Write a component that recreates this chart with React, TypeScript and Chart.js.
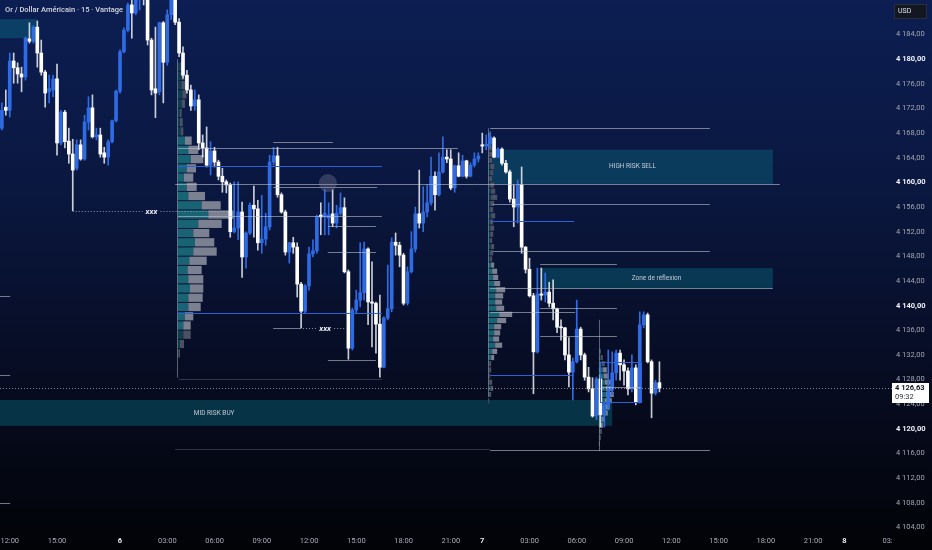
import React, { useEffect, useRef } from "react";
import { Chart, registerables } from "chart.js";

Chart.register(...registerables);

// ---------- DATA ----------
const FIRST_BAR = -2; // bar index of the first candle (15-minute bars, 0 = 12:00 day 5)

const OPEN = [
  4168.8, 4172.2, 4171.7, 4179.7, 4178.6, 4177.6, 4177.1, 4183.3, 4182.9, 4185.2,
  4181.0, 4177.9, 4174.7, 4175.0, 4176.8, 4166.4, 4171.4, 4166.7, 4164.6, 4162.3,
  4166.1, 4163.8, 4169.8, 4172.1, 4167.4, 4167.7, 4164.8, 4164.1, 4166.6, 4170.0,
  4174.8, 4181.2, 4184.7, 4188.8, 4187.5, 4190.4, 4192.0, 4190.4, 4183.1, 4175.2,
  4174.7, 4185.9, 4179.5, 4187.2, 4190.4, 4186.0, 4181.0, 4177.4, 4175.0, 4172.4,
  4173.4, 4166.4, 4165.6, 4162.8, 4165.1, 4163.3, 4161.0, 4160.1, 4159.6, 4152.0,
  4152.6, 4155.2, 4147.9, 4151.8, 4156.3, 4155.7, 4150.2, 4150.8, 4152.8, 4163.3,
  4164.3, 4158.0, 4155.2, 4148.7, 4150.2, 4149.5, 4143.5, 4139.1, 4143.2, 4148.4,
  4148.9, 4154.7, 4154.4, 4154.2, 4154.9, 4153.4, 4155.0, 4155.9, 4145.5, 4133.1,
  4139.3, 4140.9, 4142.1, 4149.2, 4140.6, 4140.4, 4137.0, 4130.0, 4138.0, 4139.5,
  4150.3, 4149.8, 4148.2, 4140.4, 4145.5, 4149.2, 4154.9, 4153.4, 4155.2, 4156.7,
  4161.0, 4158.0, 4161.7, 4164.1, 4163.8, 4159.1, 4162.7, 4161.0, 4163.5, 4161.0,
  4162.8, 4163.8, 4166.1, 4165.9, 4166.2, 4167.2, 4164.1, 4165.4, 4163.1, 4161.7,
  4157.3, 4156.0, 4159.6, 4149.5, 4145.9, 4141.6, 4132.5, 4141.9, 4141.7, 4142.2,
  4140.4, 4139.5, 4136.5, 4136.4, 4132.0, 4129.2, 4130.9, 4136.2, 4132.0, 4128.4,
  4126.5, 4122.1, 4128.1, 4122.3, 4123.9, 4126.3, 4129.1, 4132.3, 4130.4, 4129.4,
  4126.5, 4129.9, 4124.4, 4136.9, 4138.5, 4130.9, 4125.8, 4127.5,
];
const HIGH = [
  4172.9, 4175.0, 4181.0, 4181.0, 4179.4, 4178.7, 4183.6, 4185.9, 4185.4, 4186.2,
  4183.1, 4178.2, 4177.4, 4177.4, 4179.2, 4171.7, 4171.7, 4168.8, 4167.0, 4166.9,
  4166.9, 4170.9, 4173.9, 4174.2, 4168.8, 4168.8, 4165.7, 4166.9, 4170.1, 4175.0,
  4181.5, 4185.1, 4189.1, 4190.4, 4191.2, 4192.8, 4193.7, 4191.2, 4183.4, 4185.2,
  4186.0, 4186.1, 4188.0, 4190.9, 4192.0, 4186.6, 4182.0, 4178.2, 4175.8, 4175.0,
  4174.2, 4167.7, 4169.0, 4166.6, 4165.7, 4163.6, 4162.3, 4160.4, 4159.9, 4160.1,
  4160.1, 4156.8, 4152.0, 4156.7, 4159.4, 4157.1, 4157.9, 4155.0, 4164.4, 4165.7,
  4165.7, 4158.3, 4155.5, 4150.3, 4151.1, 4150.2, 4143.8, 4143.4, 4149.5, 4150.7,
  4154.7, 4156.7, 4158.8, 4156.7, 4158.8, 4156.3, 4158.3, 4157.5, 4145.8, 4139.6,
  4142.5, 4150.2, 4150.3, 4149.4, 4147.1, 4140.6, 4141.7, 4138.2, 4146.6, 4151.0,
  4151.8, 4150.3, 4148.5, 4146.3, 4152.0, 4156.0, 4162.0, 4159.3, 4159.6, 4164.1,
  4161.7, 4164.8, 4167.4, 4165.3, 4165.3, 4162.8, 4164.8, 4164.4, 4163.6, 4163.2,
  4164.8, 4164.8, 4168.0, 4167.7, 4168.2, 4167.4, 4165.6, 4165.6, 4163.6, 4162.0,
  4159.6, 4160.4, 4162.5, 4149.6, 4147.7, 4142.0, 4146.1, 4146.1, 4145.3, 4143.8,
  4144.2, 4139.6, 4137.7, 4136.5, 4134.8, 4131.5, 4140.9, 4136.5, 4132.3, 4130.0,
  4128.3, 4128.4, 4128.7, 4124.2, 4132.8, 4132.5, 4132.8, 4132.8, 4131.2, 4129.9,
  4132.0, 4130.4, 4139.0, 4139.0, 4138.8, 4131.2, 4127.9, 4130.9,
];
const LOW = [
  4168.5, 4170.9, 4170.6, 4176.1, 4176.1, 4174.7, 4176.6, 4182.6, 4182.6, 4178.7,
  4177.4, 4172.2, 4172.9, 4173.9, 4164.4, 4166.1, 4165.6, 4163.1, 4155.4, 4162.0,
  4163.6, 4163.6, 4168.5, 4167.2, 4166.9, 4164.1, 4163.1, 4162.8, 4166.4, 4169.8,
  4174.5, 4181.0, 4184.4, 4183.4, 4187.2, 4188.0, 4188.8, 4182.3, 4174.2, 4170.5,
  4174.2, 4172.9, 4179.0, 4186.4, 4185.6, 4180.4, 4176.9, 4174.5, 4171.7, 4171.7,
  4165.3, 4164.1, 4162.5, 4161.2, 4162.5, 4160.4, 4158.4, 4158.3, 4151.1, 4151.8,
  4150.7, 4144.6, 4146.1, 4151.5, 4151.1, 4149.0, 4148.5, 4149.8, 4152.3, 4162.8,
  4157.6, 4155.0, 4148.2, 4146.9, 4148.5, 4141.4, 4136.4, 4138.8, 4142.5, 4147.9,
  4148.5, 4151.5, 4151.5, 4151.5, 4152.8, 4152.6, 4154.7, 4145.3, 4131.3, 4132.8,
  4138.8, 4139.8, 4140.9, 4136.9, 4133.3, 4132.3, 4128.4, 4129.9, 4137.7, 4139.0,
  4148.2, 4146.3, 4140.1, 4140.1, 4145.3, 4148.7, 4152.6, 4152.0, 4154.4, 4156.3,
  4155.5, 4157.8, 4161.5, 4163.2, 4158.8, 4158.4, 4160.9, 4160.9, 4160.7, 4160.9,
  4162.5, 4163.3, 4164.8, 4165.3, 4165.6, 4164.0, 4164.0, 4162.8, 4161.5, 4156.8,
  4152.8, 4153.4, 4148.5, 4145.3, 4141.4, 4125.7, 4132.3, 4140.9, 4140.6, 4139.8,
  4137.7, 4135.6, 4134.4, 4131.2, 4126.8, 4124.7, 4130.7, 4131.2, 4127.9, 4126.0,
  4121.9, 4121.5, 4120.3, 4120.3, 4123.1, 4125.5, 4127.9, 4127.9, 4127.1, 4125.5,
  4126.0, 4123.9, 4124.2, 4136.4, 4130.7, 4121.8, 4125.5, 4126.0,
];
const CLOSE = [
  4171.7, 4171.7, 4179.7, 4178.6, 4177.6, 4177.1, 4183.4, 4182.9, 4185.2, 4181.0,
  4177.9, 4174.5, 4175.2, 4176.8, 4166.4, 4171.4, 4166.6, 4164.6, 4162.0, 4166.1,
  4163.8, 4169.8, 4172.1, 4167.4, 4167.7, 4164.6, 4164.1, 4166.6, 4170.0, 4174.8,
  4181.2, 4184.7, 4188.8, 4187.5, 4190.4, 4192.0, 4190.4, 4183.1, 4175.0, 4174.5,
  4185.9, 4179.5, 4187.2, 4189.6, 4186.0, 4181.0, 4177.4, 4175.0, 4172.4, 4173.4,
  4166.4, 4165.6, 4162.8, 4165.1, 4163.3, 4161.0, 4160.1, 4159.6, 4152.0, 4152.6,
  4155.2, 4147.9, 4151.8, 4156.3, 4155.7, 4150.2, 4150.8, 4152.8, 4163.3, 4164.3,
  4158.0, 4155.2, 4148.7, 4150.2, 4149.5, 4143.5, 4139.1, 4143.2, 4148.4, 4148.9,
  4154.4, 4154.4, 4155.0, 4154.7, 4153.4, 4155.0, 4155.9, 4145.5, 4133.1, 4139.3,
  4140.9, 4142.1, 4149.2, 4140.6, 4140.4, 4137.0, 4130.0, 4138.0, 4139.5, 4150.3,
  4149.8, 4148.2, 4140.4, 4145.5, 4149.2, 4154.9, 4153.4, 4155.2, 4156.7, 4161.0,
  4158.0, 4161.7, 4164.1, 4163.8, 4159.1, 4162.7, 4161.0, 4163.5, 4161.0, 4162.8,
  4163.8, 4164.3, 4165.9, 4166.2, 4167.4, 4164.1, 4165.4, 4163.1, 4161.7, 4157.3,
  4156.0, 4159.6, 4149.5, 4145.9, 4141.6, 4132.5, 4141.9, 4141.7, 4142.2, 4140.4,
  4139.5, 4136.5, 4136.4, 4132.0, 4129.2, 4130.9, 4136.2, 4132.0, 4128.4, 4126.5,
  4122.1, 4128.1, 4122.3, 4123.9, 4126.3, 4129.1, 4132.3, 4130.4, 4129.4, 4126.5,
  4129.9, 4124.4, 4136.9, 4138.5, 4130.9, 4125.8, 4127.5, 4126.63,
];

const Y_TICKS = [
  4104, 4108, 4112, 4116, 4120, 4124, 4128, 4132, 4136, 4140, 4144,
  4148, 4152, 4156, 4160, 4164, 4168, 4172, 4176, 4180, 4184,
];
const X_TICK_INDEX = [0, 12, 28, 40, 52, 64, 76, 88, 100, 112, 120, 132, 144, 156, 168, 180, 192, 204, 212, 224];
const X_TICK_LABELS = [
  "12:00", "15:00", "6", "03:00", "06:00", "09:00", "12:00", "15:00", "18:00", "21:00",
  "7", "03:00", "06:00", "09:00", "12:00", "15:00", "18:00", "21:00", "8", "03:00",
];
const DAY_LABELS = ["6", "7", "8"];

const X_MIN = -2.476;
const X_MAX = 224.06;
const Y_MIN = 4103.27;
const Y_MAX = 4189.6;

const TITLE = "Or / Dollar Américain · 15 · Vantage";
const CURRENCY = "USD";
const COUNTDOWN = "09:32";

// horizontal levels: [price, from bar, to bar, kind]
const LEVELS: [number, number, number, string][] = [
  [4168.9, 122.0, 177.8, "g"],
  [4166.6, 66.9, 82.1, "g"],
  [4165.6, 42.7, 113.8, "g"],
  [4162.7, 42.7, 94.5, "b"],
  [4159.8, 42.0, 195.6, "g"],
  [4159.3, 66.9, 93.3, "g"],
  [4154.5, 42.7, 94.5, "g"],
  [4152.9, 80.8, 93.0, "g"],
  [4148.7, 80.8, 93.0, "g"],
  [4138.8, 42.5, 94.5, "b"],
  [4136.3, 66.9, 73.7, "g"],
  [4131.2, 80.8, 93.0, "g"],
  [4128.1, 43.0, 94.5, "f"],
  [4156.5, 122.7, 177.8, "g"],
  [4153.7, 122.0, 143.3, "b"],
  [4148.9, 122.7, 177.8, "g"],
  [4146.8, 134.7, 154.2, "g"],
  [4142.8, 122.0, 193.8, "g"],
  [4139.6, 134.7, 154.2, "g"],
  [4139.0, 122.0, 143.6, "g"],
  [4135.1, 134.7, 154.2, "g"],
  [4128.8, 122.0, 143.3, "b"],
  [4116.5, 122.0, 177.8, "g"],
  [4116.7, 42.0, 122.0, "f"],
  [4141.5, -2.5, 0.1, "g"],
  [4128.8, -2.5, 0.1, "g"],
  [4108.0, -2.5, 0.1, "g"],
  [4126.8, 149.9, 160.3, "g"],
];

// dotted "xxx" markers: [price, from bar, to bar, label bar]
const MARKS: [number, number, number, number][] = [
  [4155.36, 16.0, 55.5, 36.0],
  [4136.3, 73.7, 85.2, 80.1],
];
const MARK_TEXT = "xxx";

// zones: [from bar, to bar, top price, bottom price, label]
const ZONES: [number, number, number, number, string][] = [
  [-2.5, 6.9, 4186.5, 4183.4, ""],
  [122.5, 193.8, 4165.3, 4159.75, "HIGH RISK SELL"],
  [134.7, 193.8, 4146.1, 4142.8, "Zone de réflexion"],
  [-49.2, 153.0, 4124.7, 4120.5, "MID RISK BUY"],
];
// outlined rectangle: [from bar, to bar, top, bottom]
const FRAME: [number, number, number, number] = [149.9, 160.3, 4130.8, 4124.3];
// highlighted point: [bar, price]
const DOT: [number, number] = [80.8, 4159.9];

// session volume profiles (up / down volume per row)
const VP1_BASE = 42.6, VP1_TOP = 4178.7, VP1_STEP = 1.5;
const VP1_UP = [30, 40, 40, 50, 42, 25, 25, 32, 75, 108, 132, 92, 65, 92, 108, 242, 308, 208, 158, 175, 158, 118, 100, 108, 125, 108, 108, 75, 58, 58, 25, 10];
const VP1_DOWN = [30, 30, 40, 40, 33, 17, 27, 26, 67, 100, 126, 93, 93, 100, 167, 190, 267, 234, 160, 193, 234, 174, 142, 150, 133, 144, 124, 83, 74, 74, 40, 15];
const VP1_VA = [8, 28];
const VP1_SPAN = [4180.0, 4128.3];

const VP2_BASE = 121.5, VP2_TOP = 4167.5, VP2_STEP = 1.0;
const VP2_UP = [0, 0, 10, 10, 10, 20, 20, 10, 20, 30, 30, 20, 20, 30, 20, 20, 20, 20, 30, 20, 20, 30, 40, 50, 60, 80, 70, 70, 80, 110, 90, 60, 60, 50, 70, 40, 30, 10, 10, 10, 10, 20, 10, 0];
const VP2_DOWN = [30, 30, 30, 40, 30, 40, 30, 30, 40, 40, 60, 40, 30, 40, 30, 40, 30, 20, 30, 30, 20, 30, 50, 50, 60, 90, 80, 70, 80, 130, 90, 70, 60, 60, 70, 50, 30, 20, 20, 10, 30, 30, 20, 10];
const VP2_VA = [21, 36];
const VP2_SPAN = [4168.8, 4125.2];

const VP3_BASE = 149.6, VP3_TOP = 4132.5, VP3_STEP = 1.0;
const VP3_UP = [10, 20, 30, 40, 50, 60, 70, 70, 60, 50, 40, 30, 20, 10, 10, 0];
const VP3_DOWN = [10, 20, 30, 40, 50, 60, 70, 80, 70, 60, 50, 30, 20, 20, 10, 10];
const VP3_VA = [3, 12];
const VP3_SPAN = [4137.7, 4116.4];

const VOL_TO_BARS = 1 / 39.375;

// ---------- STYLE ----------
const FONT = "Roboto, 'Open Sans', sans-serif";
const UP_COLOR = "#2f6be3";
const DOWN_COLOR = "#ffffff";
const GREY_LINE = "rgba(190,195,208,0.6)";
const FAINT_LINE = "rgba(150,155,170,0.3)";
const BLUE_LINE = "#2d5fd6";
const ZONE_FILL = "rgba(10,118,140,0.38)";

function fmtPrice(v: number): string {
  const s = v.toFixed(2);
  const [intPart, dec] = s.split(".");
  return intPart.slice(0, intPart.length - 3) + " " + intPart.slice(-3) + "," + dec;
}

function drawProfile(ctx: any, xs: any, ys: any, base: number, top: number, step: number,
  up: number[], down: number[], va: number[], span: number[]) {
  const x0 = xs.getPixelForValue(base);
  for (let k = 0; k < up.length; k++) {
    const p = top - k * step;
    const y0 = ys.getPixelForValue(p + step / 2);
    const y1 = ys.getPixelForValue(p - step / 2);
    const h = Math.max(1, y1 - y0 - 1);
    const xa = xs.getPixelForValue(base + up[k] * VOL_TO_BARS);
    const xb = xs.getPixelForValue(base + (up[k] + down[k]) * VOL_TO_BARS);
    const inVA = k >= va[0] && k <= va[1];
    ctx.fillStyle = inVA ? "#186475" : "#0f3f4f";
    ctx.fillRect(x0, y0, xa - x0, h);
    ctx.fillStyle = inVA ? "#7c8192" : "#4b5163";
    ctx.fillRect(xa, y0, xb - xa, h);
  }
  ctx.strokeStyle = "rgba(160,165,180,0.55)";
  ctx.lineWidth = 1;
  ctx.beginPath();
  const lx = Math.round(x0) + 0.5;
  ctx.moveTo(lx, ys.getPixelForValue(span[0]));
  ctx.lineTo(lx, ys.getPixelForValue(span[1]));
  ctx.stroke();
}

const decor = {
  id: "tvDecor",
  beforeDraw(chart: any) {
    const { ctx, width, height } = chart;
    ctx.save();
    const g = ctx.createLinearGradient(0, 0, 0, height);
    g.addColorStop(0, "#0c1e52");
    g.addColorStop(0.35, "#0a173f");
    g.addColorStop(0.65, "#070d25");
    g.addColorStop(1, "#020307");
    ctx.fillStyle = g;
    ctx.fillRect(0, 0, width, height);
    ctx.restore();
  },
  beforeDatasetsDraw(chart: any) {
    const { ctx, chartArea: a, scales } = chart;
    const xs = scales.x, ys = scales.y;
    ctx.save();
    ctx.beginPath();
    ctx.rect(a.left, a.top, a.right - a.left, a.bottom - a.top);
    ctx.clip();
    for (const [f, t, top, bot] of ZONES) {
      const x0 = xs.getPixelForValue(f), x1 = xs.getPixelForValue(t);
      const y0 = ys.getPixelForValue(top), y1 = ys.getPixelForValue(bot);
      ctx.fillStyle = ZONE_FILL;
      ctx.fillRect(x0, y0, x1 - x0, y1 - y0);
    }
    drawProfile(ctx, xs, ys, VP1_BASE, VP1_TOP, VP1_STEP, VP1_UP, VP1_DOWN, VP1_VA, VP1_SPAN);
    drawProfile(ctx, xs, ys, VP2_BASE, VP2_TOP, VP2_STEP, VP2_UP, VP2_DOWN, VP2_VA, VP2_SPAN);
    drawProfile(ctx, xs, ys, VP3_BASE, VP3_TOP, VP3_STEP, VP3_UP, VP3_DOWN, VP3_VA, VP3_SPAN);
    ctx.restore();
  },
  afterDatasetsDraw(chart: any) {
    const { ctx, chartArea: a, scales } = chart;
    const xs = scales.x, ys = scales.y;
    ctx.save();
    ctx.beginPath();
    ctx.rect(a.left, a.top, a.right - a.left, a.bottom - a.top);
    ctx.clip();
    ctx.lineWidth = 1;
    for (const [p, f, t, kind] of LEVELS) {
      const y = Math.round(ys.getPixelForValue(p)) + 0.5;
      ctx.strokeStyle = kind === "b" ? BLUE_LINE : kind === "f" ? FAINT_LINE : GREY_LINE;
      ctx.beginPath();
      ctx.moveTo(xs.getPixelForValue(f), y);
      ctx.lineTo(xs.getPixelForValue(t), y);
      ctx.stroke();
    }
    {
      const [f, t, top, bot] = FRAME;
      const x0 = Math.round(xs.getPixelForValue(f)) + 0.5, x1 = Math.round(xs.getPixelForValue(t)) + 0.5;
      const y0 = Math.round(ys.getPixelForValue(top)) + 0.5, y1 = Math.round(ys.getPixelForValue(bot)) + 0.5;
      ctx.strokeStyle = BLUE_LINE;
      ctx.strokeRect(x0, y0, x1 - x0, y1 - y0);
    }
    {
      const last = CLOSE[CLOSE.length - 1];
      const y = Math.round(ys.getPixelForValue(last)) + 0.5;
      ctx.strokeStyle = "rgba(175,180,195,0.75)";
      ctx.setLineDash([1, 2]);
      ctx.beginPath();
      ctx.moveTo(a.left, y);
      ctx.lineTo(a.right, y);
      ctx.stroke();
    }
    ctx.strokeStyle = "rgba(200,205,215,0.7)";
    ctx.setLineDash([1, 2]);
    for (const [p, f, t, lb] of MARKS) {
      const y = Math.round(ys.getPixelForValue(p)) + 0.5;
      const xl = xs.getPixelForValue(lb);
      ctx.beginPath();
      ctx.moveTo(xs.getPixelForValue(f), y);
      ctx.lineTo(xl - 9, y);
      ctx.moveTo(xl + 9, y);
      ctx.lineTo(xs.getPixelForValue(t), y);
      ctx.stroke();
    }
    ctx.setLineDash([]);
    ctx.fillStyle = "#eceef3";
    ctx.font = `italic bold 8px ${FONT}`;
    ctx.textAlign = "center";
    ctx.textBaseline = "middle";
    for (const [p, , , lb] of MARKS) {
      ctx.fillText(MARK_TEXT, xs.getPixelForValue(lb), ys.getPixelForValue(p) + 0.5);
    }
    ctx.fillStyle = "rgba(140,140,165,0.32)";
    ctx.beginPath();
    ctx.arc(xs.getPixelForValue(DOT[0]), ys.getPixelForValue(DOT[1]), 9, 0, Math.PI * 2);
    ctx.fill();
    ctx.fillStyle = "#c6cad4";
    ctx.font = `6.5px ${FONT}`;
    for (const [f, t, top, bot, label] of ZONES) {
      if (!label) continue;
      const cx = (xs.getPixelForValue(f) + xs.getPixelForValue(t)) / 2;
      const cy = (ys.getPixelForValue(top) + ys.getPixelForValue(bot)) / 2;
      ctx.fillText(label, cx, cy);
    }
    ctx.textAlign = "left";
    ctx.fillStyle = "#d5d8e0";
    ctx.font = `500 7.5px ${FONT}`;
    ctx.fillText(TITLE, a.left + 5, a.top + 10.5);
    ctx.restore();
  },
  afterDraw(chart: any) {
    const { ctx, chartArea: a, scales, width, height } = chart;
    const ys = scales.y;
    ctx.save();
    ctx.fillStyle = "#020307";
    ctx.fillRect(a.right, a.bottom + 1, width - a.right, height - a.bottom);
    const last = CLOSE[CLOSE.length - 1];
    const py = ys.getPixelForValue(last);
    ctx.fillStyle = "#ffffff";
    ctx.fillRect(a.right, Math.round(py) - 5, 37, 20);
    ctx.fillStyle = "#131722";
    ctx.textAlign = "left";
    ctx.textBaseline = "middle";
    ctx.font = `bold 7.5px ${FONT}`;
    ctx.fillText(fmtPrice(last), a.right + 3, Math.round(py) + 0.5);
    ctx.font = `7.5px ${FONT}`;
    ctx.fillStyle = "#2a2e39";
    ctx.fillText(COUNTDOWN, a.right + 3, Math.round(py) + 9.5);
    ctx.fillStyle = "#131722";
    ctx.strokeStyle = "#2a2e39";
    ctx.fillRect(a.right + 2, 4, 33, 15);
    ctx.strokeRect(a.right + 2.5, 4.5, 32, 14);
    ctx.fillStyle = "#e0e3eb";
    ctx.font = `7px ${FONT}`;
    ctx.fillText(CURRENCY, a.right + 6, 11.5);
    ctx.restore();
  },
};

export default function App() {
  const ref = useRef<HTMLCanvasElement>(null);
  useEffect(() => {
    document.body.style.margin = "0";
    document.body.style.background = "#000";
    const bars = OPEN.map((_, k) => FIRST_BAR + k);
    const colors = OPEN.map((o, k) => (CLOSE[k] > o ? UP_COLOR : DOWN_COLOR));
    const wickColors = OPEN.map((o, k) => (CLOSE[k] > o ? UP_COLOR : "rgba(235,238,245,0.85)"));
    const chart = new Chart(ref.current as HTMLCanvasElement, {
      type: "bar",
      data: {
        datasets: [
          {
            label: "wick",
            data: bars.map((x, k) => ({ x, y: [LOW[k], HIGH[k]] })) as any,
            backgroundColor: wickColors,
            barThickness: 1,
            grouped: false,
            borderWidth: 0,
            borderSkipped: false,
            order: 2,
          },
          {
            label: "body",
            data: bars.map((x, k) => ({ x, y: [OPEN[k], CLOSE[k]] })) as any,
            backgroundColor: colors,
            barThickness: 3,
            grouped: false,
            borderWidth: 0,
            borderSkipped: false,
            minBarLength: 1,
            order: 1,
          },
        ],
      },
      options: {
        responsive: false,
        maintainAspectRatio: false,
        animation: false,
        events: [],
        layout: { padding: 0 },
        plugins: { legend: { display: false }, tooltip: { enabled: false }, title: { display: false } },
        scales: {
          x: {
            type: "linear",
            min: X_MIN,
            max: X_MAX,
            bounds: "data",
            offset: false,
            grid: { display: false, drawTicks: false },
            border: { display: false },
            ticks: {
              autoSkip: false,
              maxRotation: 0,
              minRotation: 0,
              padding: 5,
              color: (c: any) => (DAY_LABELS.includes(X_TICK_LABELS[c.index]) ? "#e8eaf0" : "#a9acb6"),
              font: (c: any) => ({
                family: FONT,
                size: 7.5,
                weight: DAY_LABELS.includes(X_TICK_LABELS[c.index]) ? "bold" : "normal",
              }),
              callback: (_v: any, i: number) => X_TICK_LABELS[i],
            },
            afterBuildTicks: (s: any) => {
              s.ticks = X_TICK_INDEX.map((v) => ({ value: v }));
            },
            afterFit: (s: any) => {
              s.height = 18;
              s.paddingLeft = 0;
              s.paddingRight = 0;
            },
          } as any,
          y: {
            type: "linear",
            position: "right",
            min: Y_MIN,
            max: Y_MAX,
            bounds: "data",
            grid: { display: false, drawTicks: false },
            border: { display: false },
            ticks: {
              autoSkip: false,
              crossAlign: "near",
              padding: 4,
              color: (c: any) => (c.tick && c.tick.value % 20 === 0 ? "#eef0f5" : "#a4a7b1"),
              font: (c: any) => ({
                family: FONT,
                size: 7.5,
                weight: c.tick && c.tick.value % 20 === 0 ? "bold" : "normal",
              }),
              callback: (v: any) => fmtPrice(Number(v)),
            },
            afterBuildTicks: (s: any) => {
              s.ticks = Y_TICKS.map((v) => ({ value: v }));
            },
            afterFit: (s: any) => {
              s.width = 40;
              s.paddingTop = 0;
              s.paddingBottom = 0;
            },
          } as any,
        },
      },
      plugins: [decor],
    });
    return () => chart.destroy();
  }, []);
  return (
    <div style={{ width: 932, height: 550 }}>
      <canvas ref={ref} width={932} height={550} style={{ display: "block", width: 932, height: 550 }} />
    </div>
  );
}
